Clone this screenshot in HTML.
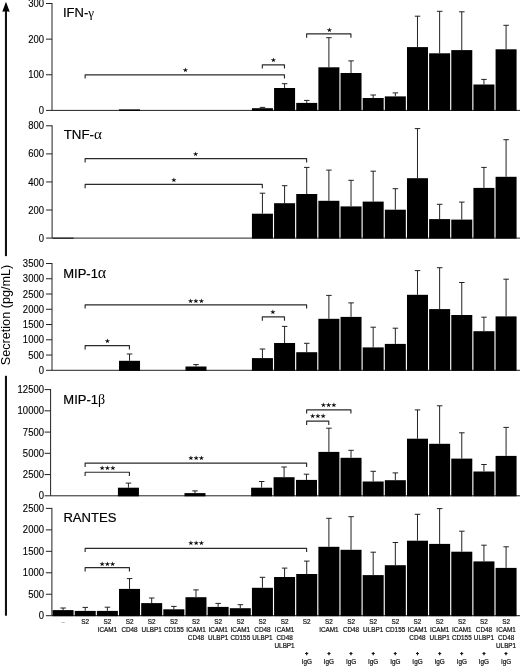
<!DOCTYPE html>
<html><head><meta charset="utf-8"><title>Figure</title>
<style>html,body{margin:0;padding:0;background:#fff}svg{display:block;will-change:transform}</style></head>
<body>
<svg width="520" height="666" viewBox="0 0 520 666">
<rect width="520" height="666" fill="#fff"/>
<g font-family="'Liberation Sans', Arial, sans-serif" fill="#000">
<rect x="4.92" y="10" width="2.08" height="246.1" fill="#111"/>
<rect x="4.92" y="375.8" width="2.08" height="239.9" fill="#111"/>
<polygon points="5.95,1.8 2.3,11.7 5.95,11.2 9.7,11.7" fill="#000"/>
<text transform="translate(9.8,365.3) rotate(-90)" font-size="13.5" textLength="100.6" lengthAdjust="spacingAndGlyphs">Secretion (pg/mL)</text>
<path d="M52.0,3.0 V110.4 H520" fill="none" stroke="#222" stroke-width="1"/>
<line x1="46.0" y1="110.4" x2="52.0" y2="110.4" stroke="#222" stroke-width="1"/>
<text transform="translate(44,113.95) scale(0.95,1)" font-size="10" text-anchor="end" stroke="#000" stroke-width="0.12">0</text>
<line x1="46.0" y1="74.77" x2="52.0" y2="74.77" stroke="#222" stroke-width="1"/>
<text transform="translate(44,78.32) scale(0.95,1)" font-size="10" text-anchor="end" stroke="#000" stroke-width="0.12">100</text>
<line x1="46.0" y1="39.13" x2="52.0" y2="39.13" stroke="#222" stroke-width="1"/>
<text transform="translate(44,42.68) scale(0.95,1)" font-size="10" text-anchor="end" stroke="#000" stroke-width="0.12">200</text>
<line x1="46.0" y1="3.5" x2="52.0" y2="3.5" stroke="#222" stroke-width="1"/>
<text transform="translate(44,7.05) scale(0.95,1)" font-size="10" text-anchor="end" stroke="#000" stroke-width="0.12">300</text>
<text x="63" y="16.5" font-size="13" stroke="#000" stroke-width="0.2">IFN-<tspan font-family="'Liberation Serif', 'DejaVu Serif', serif" font-size="13" stroke-width="0">γ</tspan></text>
<rect x="119.03" y="109.4" width="21.0" height="1.50" fill="#000"/>
<rect x="251.93" y="108.2" width="21.0" height="2.70" fill="#000"/>
<path d="M262.43,108.2 V107.4 M259.73,107.4 H265.23" stroke="#222" stroke-width="1" fill="none"/>
<rect x="274.08" y="88" width="21.0" height="22.90" fill="#000"/>
<path d="M284.58,88 V83.7 M281.88,83.7 H287.38" stroke="#222" stroke-width="1" fill="none"/>
<rect x="296.23" y="102.9" width="21.0" height="8.00" fill="#000"/>
<path d="M306.73,102.9 V100.4 M304.03,100.4 H309.53" stroke="#222" stroke-width="1" fill="none"/>
<rect x="318.38" y="67.3" width="21.0" height="43.60" fill="#000"/>
<path d="M328.88,67.3 V37.7 M326.18,37.7 H331.68" stroke="#222" stroke-width="1" fill="none"/>
<rect x="340.53" y="73" width="21.0" height="37.90" fill="#000"/>
<path d="M351.03,73 V60.9 M348.33,60.9 H353.83" stroke="#222" stroke-width="1" fill="none"/>
<rect x="362.68" y="98" width="21.0" height="12.90" fill="#000"/>
<path d="M373.18,98 V95 M370.48,95 H375.98" stroke="#222" stroke-width="1" fill="none"/>
<rect x="384.83" y="96.4" width="21.0" height="14.50" fill="#000"/>
<path d="M395.33,96.4 V92.9 M392.63,92.9 H398.13" stroke="#222" stroke-width="1" fill="none"/>
<rect x="406.98" y="47.1" width="21.0" height="63.80" fill="#000"/>
<path d="M417.48,47.1 V16.2 M414.78,16.2 H420.28" stroke="#222" stroke-width="1" fill="none"/>
<rect x="429.13" y="53.3" width="21.0" height="57.60" fill="#000"/>
<path d="M439.63,53.3 V11.3 M436.93,11.3 H442.43" stroke="#222" stroke-width="1" fill="none"/>
<rect x="451.28" y="50.1" width="21.0" height="60.80" fill="#000"/>
<path d="M461.78,50.1 V11.8 M459.08,11.8 H464.58" stroke="#222" stroke-width="1" fill="none"/>
<rect x="473.43" y="84.5" width="21.0" height="26.40" fill="#000"/>
<path d="M483.93,84.5 V79.4 M481.23,79.4 H486.73" stroke="#222" stroke-width="1" fill="none"/>
<rect x="495.58" y="49.3" width="21.0" height="61.60" fill="#000"/>
<path d="M506.08,49.3 V25.3 M503.38,25.3 H508.88" stroke="#222" stroke-width="1" fill="none"/>
<path d="M85.13,78.6 V74.8 H284.48 V78.6" stroke="#2a2a2a" stroke-width="1.15" stroke-linejoin="round" fill="none"/>
<text x="185.3" y="72.35" font-size="5.9" stroke="#000" stroke-width="0.15" text-anchor="middle" font-family="'DejaVu Sans', sans-serif">★</text>
<path d="M262.33,68.6 V64.8 H284.48 V68.6" stroke="#2a2a2a" stroke-width="1.15" stroke-linejoin="round" fill="none"/>
<text x="273.4" y="62.05" font-size="5.9" stroke="#000" stroke-width="0.15" text-anchor="middle" font-family="'DejaVu Sans', sans-serif">★</text>
<path d="M306.63,37.7 V33.900000000000006 H350.93 V37.7" stroke="#2a2a2a" stroke-width="1.15" stroke-linejoin="round" fill="none"/>
<text x="329.3" y="31.75" font-size="5.9" stroke="#000" stroke-width="0.15" text-anchor="middle" font-family="'DejaVu Sans', sans-serif">★</text>
<path d="M52.1,125.3 V238.1 H520" fill="none" stroke="#222" stroke-width="1"/>
<line x1="46.1" y1="238.1" x2="52.1" y2="238.1" stroke="#222" stroke-width="1"/>
<text transform="translate(44,241.65) scale(0.95,1)" font-size="10" text-anchor="end" stroke="#000" stroke-width="0.12">0</text>
<line x1="46.1" y1="210.03" x2="52.1" y2="210.03" stroke="#222" stroke-width="1"/>
<text transform="translate(44,213.58) scale(0.95,1)" font-size="10" text-anchor="end" stroke="#000" stroke-width="0.12">200</text>
<line x1="46.1" y1="181.95" x2="52.1" y2="181.95" stroke="#222" stroke-width="1"/>
<text transform="translate(44,185.50) scale(0.95,1)" font-size="10" text-anchor="end" stroke="#000" stroke-width="0.12">400</text>
<line x1="46.1" y1="153.88" x2="52.1" y2="153.88" stroke="#222" stroke-width="1"/>
<text transform="translate(44,157.43) scale(0.95,1)" font-size="10" text-anchor="end" stroke="#000" stroke-width="0.12">600</text>
<line x1="46.1" y1="125.8" x2="52.1" y2="125.8" stroke="#222" stroke-width="1"/>
<text transform="translate(44,129.35) scale(0.95,1)" font-size="10" text-anchor="end" stroke="#000" stroke-width="0.12">800</text>
<text x="63.7" y="138.9" font-size="13.3" stroke="#000" stroke-width="0.2">TNF-<tspan font-family="'Liberation Serif', 'DejaVu Serif', serif" font-size="15" stroke-width="0">α</tspan></text>
<rect x="52.58" y="237.7" width="21.0" height="0.90" fill="#000"/>
<rect x="251.93" y="213.7" width="21.0" height="24.90" fill="#000"/>
<path d="M262.43,213.7 V193.2 M259.73,193.2 H265.23" stroke="#222" stroke-width="1" fill="none"/>
<rect x="274.08" y="203.2" width="21.0" height="35.40" fill="#000"/>
<path d="M284.58,203.2 V185.7 M281.88,185.7 H287.38" stroke="#222" stroke-width="1" fill="none"/>
<rect x="296.23" y="194" width="21.0" height="44.60" fill="#000"/>
<path d="M306.73,194 V167.4 M304.03,167.4 H309.53" stroke="#222" stroke-width="1" fill="none"/>
<rect x="318.38" y="200.8" width="21.0" height="37.80" fill="#000"/>
<path d="M328.88,200.8 V170.1 M326.18,170.1 H331.68" stroke="#222" stroke-width="1" fill="none"/>
<rect x="340.53" y="206.4" width="21.0" height="32.20" fill="#000"/>
<path d="M351.03,206.4 V180.3 M348.33,180.3 H353.83" stroke="#222" stroke-width="1" fill="none"/>
<rect x="362.68" y="201.6" width="21.0" height="37.00" fill="#000"/>
<path d="M373.18,201.6 V171.2 M370.48,171.2 H375.98" stroke="#222" stroke-width="1" fill="none"/>
<rect x="384.83" y="209.7" width="21.0" height="28.90" fill="#000"/>
<path d="M395.33,209.7 V188.7 M392.63,188.7 H398.13" stroke="#222" stroke-width="1" fill="none"/>
<rect x="406.98" y="178.2" width="21.0" height="60.40" fill="#000"/>
<path d="M417.48,178.2 V128.6 M414.78,128.6 H420.28" stroke="#222" stroke-width="1" fill="none"/>
<rect x="429.13" y="219.1" width="21.0" height="19.50" fill="#000"/>
<path d="M439.63,219.1 V204.3 M436.93,204.3 H442.43" stroke="#222" stroke-width="1" fill="none"/>
<rect x="451.28" y="219.6" width="21.0" height="19.00" fill="#000"/>
<path d="M461.78,219.6 V202.1 M459.08,202.1 H464.58" stroke="#222" stroke-width="1" fill="none"/>
<rect x="473.43" y="187.9" width="21.0" height="50.70" fill="#000"/>
<path d="M483.93,187.9 V167.4 M481.23,167.4 H486.73" stroke="#222" stroke-width="1" fill="none"/>
<rect x="495.58" y="176.8" width="21.0" height="61.80" fill="#000"/>
<path d="M506.08,176.8 V139.7 M503.38,139.7 H508.88" stroke="#222" stroke-width="1" fill="none"/>
<path d="M85.13,162.4 V158.6 H306.63 V162.4" stroke="#2a2a2a" stroke-width="1.15" stroke-linejoin="round" fill="none"/>
<text x="195.6" y="155.75" font-size="5.9" stroke="#000" stroke-width="0.15" text-anchor="middle" font-family="'DejaVu Sans', sans-serif">★</text>
<path d="M85.13,188.2 V184.39999999999998 H262.33 V188.2" stroke="#2a2a2a" stroke-width="1.15" stroke-linejoin="round" fill="none"/>
<text x="174" y="182.35" font-size="5.9" stroke="#000" stroke-width="0.15" text-anchor="middle" font-family="'DejaVu Sans', sans-serif">★</text>
<path d="M52.0,263.0 V370.3 H520" fill="none" stroke="#222" stroke-width="1"/>
<line x1="46.0" y1="370.3" x2="52.0" y2="370.3" stroke="#222" stroke-width="1"/>
<text transform="translate(44,373.85) scale(0.95,1)" font-size="10" text-anchor="end" stroke="#000" stroke-width="0.12">0</text>
<line x1="46.0" y1="355.04" x2="52.0" y2="355.04" stroke="#222" stroke-width="1"/>
<text transform="translate(44,358.59) scale(0.95,1)" font-size="10" text-anchor="end" stroke="#000" stroke-width="0.12">500</text>
<line x1="46.0" y1="339.79" x2="52.0" y2="339.79" stroke="#222" stroke-width="1"/>
<text transform="translate(44,343.34) scale(0.95,1)" font-size="10" text-anchor="end" stroke="#000" stroke-width="0.12">1000</text>
<line x1="46.0" y1="324.53" x2="52.0" y2="324.53" stroke="#222" stroke-width="1"/>
<text transform="translate(44,328.08) scale(0.95,1)" font-size="10" text-anchor="end" stroke="#000" stroke-width="0.12">1500</text>
<line x1="46.0" y1="309.27" x2="52.0" y2="309.27" stroke="#222" stroke-width="1"/>
<text transform="translate(44,312.82) scale(0.95,1)" font-size="10" text-anchor="end" stroke="#000" stroke-width="0.12">2000</text>
<line x1="46.0" y1="294.01" x2="52.0" y2="294.01" stroke="#222" stroke-width="1"/>
<text transform="translate(44,297.56) scale(0.95,1)" font-size="10" text-anchor="end" stroke="#000" stroke-width="0.12">2500</text>
<line x1="46.0" y1="278.76" x2="52.0" y2="278.76" stroke="#222" stroke-width="1"/>
<text transform="translate(44,282.31) scale(0.95,1)" font-size="10" text-anchor="end" stroke="#000" stroke-width="0.12">3000</text>
<line x1="46.0" y1="263.5" x2="52.0" y2="263.5" stroke="#222" stroke-width="1"/>
<text transform="translate(44,267.05) scale(0.95,1)" font-size="10" text-anchor="end" stroke="#000" stroke-width="0.12">3500</text>
<text x="63.2" y="277.8" font-size="13" stroke="#000" stroke-width="0.2">MIP-1<tspan font-family="'Liberation Serif', 'DejaVu Serif', serif" font-size="16" stroke-width="0">α</tspan></text>
<rect x="119.03" y="360.8" width="21.0" height="10.00" fill="#000"/>
<path d="M129.53,360.8 V354 M126.83,354 H132.33" stroke="#222" stroke-width="1" fill="none"/>
<rect x="185.48" y="366.5" width="21.0" height="4.30" fill="#000"/>
<path d="M195.98,366.5 V364.6 M193.28,364.6 H198.78" stroke="#222" stroke-width="1" fill="none"/>
<rect x="251.93" y="358.1" width="21.0" height="12.70" fill="#000"/>
<path d="M262.43,358.1 V349 M259.73,349 H265.23" stroke="#222" stroke-width="1" fill="none"/>
<rect x="274.08" y="343" width="21.0" height="27.80" fill="#000"/>
<path d="M284.58,343 V326.4 M281.88,326.4 H287.38" stroke="#222" stroke-width="1" fill="none"/>
<rect x="296.23" y="352.2" width="21.0" height="18.60" fill="#000"/>
<path d="M306.73,352.2 V343.3 M304.03,343.3 H309.53" stroke="#222" stroke-width="1" fill="none"/>
<rect x="318.38" y="318.8" width="21.0" height="52.00" fill="#000"/>
<path d="M328.88,318.8 V295.4 M326.18,295.4 H331.68" stroke="#222" stroke-width="1" fill="none"/>
<rect x="340.53" y="316.9" width="21.0" height="53.90" fill="#000"/>
<path d="M351.03,316.9 V302.9 M348.33,302.9 H353.83" stroke="#222" stroke-width="1" fill="none"/>
<rect x="362.68" y="347.4" width="21.0" height="23.40" fill="#000"/>
<path d="M373.18,347.4 V327.2 M370.48,327.2 H375.98" stroke="#222" stroke-width="1" fill="none"/>
<rect x="384.83" y="343.9" width="21.0" height="26.90" fill="#000"/>
<path d="M395.33,343.9 V328.2 M392.63,328.2 H398.13" stroke="#222" stroke-width="1" fill="none"/>
<rect x="406.98" y="294.8" width="21.0" height="76.00" fill="#000"/>
<path d="M417.48,294.8 V270.6 M414.78,270.6 H420.28" stroke="#222" stroke-width="1" fill="none"/>
<rect x="429.13" y="309.1" width="21.0" height="61.70" fill="#000"/>
<path d="M439.63,309.1 V267.7 M436.93,267.7 H442.43" stroke="#222" stroke-width="1" fill="none"/>
<rect x="451.28" y="315" width="21.0" height="55.80" fill="#000"/>
<path d="M461.78,315 V282.5 M459.08,282.5 H464.58" stroke="#222" stroke-width="1" fill="none"/>
<rect x="473.43" y="331.2" width="21.0" height="39.60" fill="#000"/>
<path d="M483.93,331.2 V317.2 M481.23,317.2 H486.73" stroke="#222" stroke-width="1" fill="none"/>
<rect x="495.58" y="316.4" width="21.0" height="54.40" fill="#000"/>
<path d="M506.08,316.4 V279.2 M503.38,279.2 H508.88" stroke="#222" stroke-width="1" fill="none"/>
<path d="M85.13,308.6 V304.8 H306.63 V308.6" stroke="#2a2a2a" stroke-width="1.15" stroke-linejoin="round" fill="none"/>
<text x="196" y="302.55" font-size="5.9" stroke="#000" stroke-width="0.15" text-anchor="middle" font-family="'DejaVu Sans', sans-serif">★★★</text>
<path d="M85.13,349.4 V345.59999999999997 H129.43 V349.4" stroke="#2a2a2a" stroke-width="1.15" stroke-linejoin="round" fill="none"/>
<text x="107.5" y="342.75" font-size="5.9" stroke="#000" stroke-width="0.15" text-anchor="middle" font-family="'DejaVu Sans', sans-serif">★</text>
<path d="M262.33,320.7 V316.9 H284.48 V320.7" stroke="#2a2a2a" stroke-width="1.15" stroke-linejoin="round" fill="none"/>
<text x="272.8" y="314.15" font-size="5.9" stroke="#000" stroke-width="0.15" text-anchor="middle" font-family="'DejaVu Sans', sans-serif">★</text>
<path d="M50.6,389.1 V495.8 H520" fill="none" stroke="#222" stroke-width="1"/>
<line x1="44.6" y1="495.8" x2="50.6" y2="495.8" stroke="#222" stroke-width="1"/>
<text transform="translate(44,499.35) scale(0.95,1)" font-size="10" text-anchor="end" stroke="#000" stroke-width="0.12">0</text>
<line x1="44.6" y1="474.56" x2="50.6" y2="474.56" stroke="#222" stroke-width="1"/>
<text transform="translate(44,478.11) scale(0.95,1)" font-size="10" text-anchor="end" stroke="#000" stroke-width="0.12">2500</text>
<line x1="44.6" y1="453.32" x2="50.6" y2="453.32" stroke="#222" stroke-width="1"/>
<text transform="translate(44,456.87) scale(0.95,1)" font-size="10" text-anchor="end" stroke="#000" stroke-width="0.12">5000</text>
<line x1="44.6" y1="432.08" x2="50.6" y2="432.08" stroke="#222" stroke-width="1"/>
<text transform="translate(44,435.63) scale(0.95,1)" font-size="10" text-anchor="end" stroke="#000" stroke-width="0.12">7500</text>
<line x1="44.6" y1="410.84" x2="50.6" y2="410.84" stroke="#222" stroke-width="1"/>
<text transform="translate(44,414.39) scale(0.95,1)" font-size="10" text-anchor="end" stroke="#000" stroke-width="0.12">10000</text>
<line x1="44.6" y1="389.6" x2="50.6" y2="389.6" stroke="#222" stroke-width="1"/>
<text transform="translate(44,393.15) scale(0.95,1)" font-size="10" text-anchor="end" stroke="#000" stroke-width="0.12">12500</text>
<text x="63.3" y="403.6" font-size="13" stroke="#000" stroke-width="0.2">MIP-1<tspan font-family="'Liberation Serif', 'DejaVu Serif', serif" font-size="14" stroke-width="0">β</tspan></text>
<rect x="117.93" y="487.7" width="21.0" height="8.60" fill="#000"/>
<path d="M128.43,487.7 V483.1 M125.73,483.1 H131.23" stroke="#222" stroke-width="1" fill="none"/>
<rect x="184.48" y="493.1" width="21.0" height="3.20" fill="#000"/>
<path d="M194.98,493.1 V490.9 M192.28,490.9 H197.78" stroke="#222" stroke-width="1" fill="none"/>
<rect x="251.13" y="487.7" width="21.0" height="8.60" fill="#000"/>
<path d="M261.63,487.7 V481.5 M258.93,481.5 H264.43" stroke="#222" stroke-width="1" fill="none"/>
<rect x="273.58" y="477.2" width="21.0" height="19.10" fill="#000"/>
<path d="M284.08,477.2 V467 M281.38,467 H286.88" stroke="#222" stroke-width="1" fill="none"/>
<rect x="295.98" y="479.9" width="21.0" height="16.40" fill="#000"/>
<path d="M306.48,479.9 V474.2 M303.78,474.2 H309.28" stroke="#222" stroke-width="1" fill="none"/>
<rect x="318.38" y="451.9" width="21.0" height="44.40" fill="#000"/>
<path d="M328.88,451.9 V428.2 M326.18,428.2 H331.68" stroke="#222" stroke-width="1" fill="none"/>
<rect x="340.53" y="457.8" width="21.0" height="38.50" fill="#000"/>
<path d="M351.03,457.8 V450.3 M348.33,450.3 H353.83" stroke="#222" stroke-width="1" fill="none"/>
<rect x="362.68" y="481.5" width="21.0" height="14.80" fill="#000"/>
<path d="M373.18,481.5 V471.3 M370.48,471.3 H375.98" stroke="#222" stroke-width="1" fill="none"/>
<rect x="384.83" y="480.2" width="21.0" height="16.10" fill="#000"/>
<path d="M395.33,480.2 V472.9 M392.63,472.9 H398.13" stroke="#222" stroke-width="1" fill="none"/>
<rect x="406.98" y="438.7" width="21.0" height="57.60" fill="#000"/>
<path d="M417.48,438.7 V409.9 M414.78,409.9 H420.28" stroke="#222" stroke-width="1" fill="none"/>
<rect x="429.13" y="443.8" width="21.0" height="52.50" fill="#000"/>
<path d="M439.63,443.8 V405.8 M436.93,405.8 H442.43" stroke="#222" stroke-width="1" fill="none"/>
<rect x="451.28" y="458.6" width="21.0" height="37.70" fill="#000"/>
<path d="M461.78,458.6 V432.8 M459.08,432.8 H464.58" stroke="#222" stroke-width="1" fill="none"/>
<rect x="473.43" y="471.5" width="21.0" height="24.80" fill="#000"/>
<path d="M483.93,471.5 V464.5 M481.23,464.5 H486.73" stroke="#222" stroke-width="1" fill="none"/>
<rect x="495.58" y="455.9" width="21.0" height="40.40" fill="#000"/>
<path d="M506.08,455.9 V427.4 M503.38,427.4 H508.88" stroke="#222" stroke-width="1" fill="none"/>
<path d="M85.13,466.9 V463.09999999999997 H306.63 V466.9" stroke="#2a2a2a" stroke-width="1.15" stroke-linejoin="round" fill="none"/>
<text x="196.1" y="460.35" font-size="5.9" stroke="#000" stroke-width="0.15" text-anchor="middle" font-family="'DejaVu Sans', sans-serif">★★★</text>
<path d="M85.13,476 V472.2 H129.43 V476" stroke="#2a2a2a" stroke-width="1.15" stroke-linejoin="round" fill="none"/>
<text x="107.5" y="469.55" font-size="5.9" stroke="#000" stroke-width="0.15" text-anchor="middle" font-family="'DejaVu Sans', sans-serif">★★★</text>
<path d="M306.63,413.6 V409.8 H350.93 V413.6" stroke="#2a2a2a" stroke-width="1.15" stroke-linejoin="round" fill="none"/>
<text x="328.6" y="407.35" font-size="5.9" stroke="#000" stroke-width="0.15" text-anchor="middle" font-family="'DejaVu Sans', sans-serif">★★★</text>
<path d="M306.63,424.9 V421.09999999999997 H328.78 V424.9" stroke="#2a2a2a" stroke-width="1.15" stroke-linejoin="round" fill="none"/>
<text x="317.8" y="418.35" font-size="5.9" stroke="#000" stroke-width="0.15" text-anchor="middle" font-family="'DejaVu Sans', sans-serif">★★★</text>
<path d="M51.9,507.9 V615.7 H520" fill="none" stroke="#222" stroke-width="1"/>
<line x1="45.9" y1="615.7" x2="51.9" y2="615.7" stroke="#222" stroke-width="1"/>
<text transform="translate(44,619.25) scale(0.95,1)" font-size="10" text-anchor="end" stroke="#000" stroke-width="0.12">0</text>
<line x1="45.9" y1="594.24" x2="51.9" y2="594.24" stroke="#222" stroke-width="1"/>
<text transform="translate(44,597.79) scale(0.95,1)" font-size="10" text-anchor="end" stroke="#000" stroke-width="0.12">500</text>
<line x1="45.9" y1="572.78" x2="51.9" y2="572.78" stroke="#222" stroke-width="1"/>
<text transform="translate(44,576.33) scale(0.95,1)" font-size="10" text-anchor="end" stroke="#000" stroke-width="0.12">1000</text>
<line x1="45.9" y1="551.32" x2="51.9" y2="551.32" stroke="#222" stroke-width="1"/>
<text transform="translate(44,554.87) scale(0.95,1)" font-size="10" text-anchor="end" stroke="#000" stroke-width="0.12">1500</text>
<line x1="45.9" y1="529.86" x2="51.9" y2="529.86" stroke="#222" stroke-width="1"/>
<text transform="translate(44,533.41) scale(0.95,1)" font-size="10" text-anchor="end" stroke="#000" stroke-width="0.12">2000</text>
<line x1="45.9" y1="508.4" x2="51.9" y2="508.4" stroke="#222" stroke-width="1"/>
<text transform="translate(44,511.95) scale(0.95,1)" font-size="10" text-anchor="end" stroke="#000" stroke-width="0.12">2500</text>
<text x="63.4" y="521.9" font-size="13.1" stroke="#000" stroke-width="0.2">RANTES</text>
<rect x="52.58" y="610.1" width="21.0" height="6.10" fill="#000"/>
<path d="M63.08,610.1 V608 M60.38,608 H65.88" stroke="#222" stroke-width="1" fill="none"/>
<rect x="74.73" y="610.9" width="21.0" height="5.30" fill="#000"/>
<path d="M85.23,610.9 V607.4 M82.53,607.4 H88.03" stroke="#222" stroke-width="1" fill="none"/>
<rect x="96.88" y="610.9" width="21.0" height="5.30" fill="#000"/>
<path d="M107.38,610.9 V607.2 M104.68,607.2 H110.18" stroke="#222" stroke-width="1" fill="none"/>
<rect x="119.03" y="588.9" width="21.0" height="27.30" fill="#000"/>
<path d="M129.53,588.9 V578.6 M126.83,578.6 H132.33" stroke="#222" stroke-width="1" fill="none"/>
<rect x="141.18" y="603.1" width="21.0" height="13.10" fill="#000"/>
<path d="M151.68,603.1 V598 M148.98,598 H154.48" stroke="#222" stroke-width="1" fill="none"/>
<rect x="163.33" y="609.3" width="21.0" height="6.90" fill="#000"/>
<path d="M173.83,609.3 V606.4 M171.13,606.4 H176.63" stroke="#222" stroke-width="1" fill="none"/>
<rect x="185.48" y="597.2" width="21.0" height="19.00" fill="#000"/>
<path d="M195.98,597.2 V589.9 M193.28,589.9 H198.78" stroke="#222" stroke-width="1" fill="none"/>
<rect x="207.63" y="606.9" width="21.0" height="9.30" fill="#000"/>
<path d="M218.13,606.9 V603.4 M215.43,603.4 H220.93" stroke="#222" stroke-width="1" fill="none"/>
<rect x="229.78" y="608.2" width="21.0" height="8.00" fill="#000"/>
<path d="M240.28,608.2 V604.7 M237.58,604.7 H243.08" stroke="#222" stroke-width="1" fill="none"/>
<rect x="251.93" y="587.8" width="21.0" height="28.40" fill="#000"/>
<path d="M262.43,587.8 V577.3 M259.73,577.3 H265.23" stroke="#222" stroke-width="1" fill="none"/>
<rect x="274.08" y="577" width="21.0" height="39.20" fill="#000"/>
<path d="M284.58,577 V568.1 M281.88,568.1 H287.38" stroke="#222" stroke-width="1" fill="none"/>
<rect x="296.23" y="574" width="21.0" height="42.20" fill="#000"/>
<path d="M306.73,574 V561.1 M304.03,561.1 H309.53" stroke="#222" stroke-width="1" fill="none"/>
<rect x="318.38" y="546.8" width="21.0" height="69.40" fill="#000"/>
<path d="M328.88,546.8 V518.3 M326.18,518.3 H331.68" stroke="#222" stroke-width="1" fill="none"/>
<rect x="340.53" y="549.8" width="21.0" height="66.40" fill="#000"/>
<path d="M351.03,549.8 V516.7 M348.33,516.7 H353.83" stroke="#222" stroke-width="1" fill="none"/>
<rect x="362.68" y="575.1" width="21.0" height="41.10" fill="#000"/>
<path d="M373.18,575.1 V552.2 M370.48,552.2 H375.98" stroke="#222" stroke-width="1" fill="none"/>
<rect x="384.83" y="565.2" width="21.0" height="51.00" fill="#000"/>
<path d="M395.33,565.2 V542.5 M392.63,542.5 H398.13" stroke="#222" stroke-width="1" fill="none"/>
<rect x="406.98" y="540.7" width="21.0" height="75.50" fill="#000"/>
<path d="M417.48,540.7 V514.3 M414.78,514.3 H420.28" stroke="#222" stroke-width="1" fill="none"/>
<rect x="429.13" y="543.9" width="21.0" height="72.30" fill="#000"/>
<path d="M439.63,543.9 V508.6 M436.93,508.6 H442.43" stroke="#222" stroke-width="1" fill="none"/>
<rect x="451.28" y="551.7" width="21.0" height="64.50" fill="#000"/>
<path d="M461.78,551.7 V531.2 M459.08,531.2 H464.58" stroke="#222" stroke-width="1" fill="none"/>
<rect x="473.43" y="561.4" width="21.0" height="54.80" fill="#000"/>
<path d="M483.93,561.4 V545.2 M481.23,545.2 H486.73" stroke="#222" stroke-width="1" fill="none"/>
<rect x="495.58" y="567.9" width="21.0" height="48.30" fill="#000"/>
<path d="M506.08,567.9 V546.8 M503.38,546.8 H508.88" stroke="#222" stroke-width="1" fill="none"/>
<path d="M85.13,552.1 V548.3000000000001 H306.63 V552.1" stroke="#2a2a2a" stroke-width="1.15" stroke-linejoin="round" fill="none"/>
<text x="196.1" y="545.35" font-size="5.9" stroke="#000" stroke-width="0.15" text-anchor="middle" font-family="'DejaVu Sans', sans-serif">★★★</text>
<path d="M85.13,571.4 V567.6 H129.43 V571.4" stroke="#2a2a2a" stroke-width="1.15" stroke-linejoin="round" fill="none"/>
<text x="107.3" y="565.55" font-size="5.9" stroke="#000" stroke-width="0.15" text-anchor="middle" font-family="'DejaVu Sans', sans-serif">★★★</text>
<text x="63.08" y="623.9" font-size="6" text-anchor="middle" fill="#555">–</text>
<text transform="translate(85.23,624.3) scale(0.86,1)" font-size="7.4" text-anchor="middle" fill="#111" stroke="#111" stroke-width="0.22">S2</text>
<text transform="translate(107.38,624.3) scale(0.86,1)" font-size="7.4" text-anchor="middle" fill="#111" stroke="#111" stroke-width="0.22">S2</text>
<text transform="translate(107.38,632.3) scale(0.86,1)" font-size="7.4" text-anchor="middle" fill="#111" stroke="#111" stroke-width="0.22">ICAM1</text>
<text transform="translate(129.53,624.3) scale(0.86,1)" font-size="7.4" text-anchor="middle" fill="#111" stroke="#111" stroke-width="0.22">S2</text>
<text transform="translate(129.53,632.3) scale(0.86,1)" font-size="7.4" text-anchor="middle" fill="#111" stroke="#111" stroke-width="0.22">CD48</text>
<text transform="translate(151.68,624.3) scale(0.86,1)" font-size="7.4" text-anchor="middle" fill="#111" stroke="#111" stroke-width="0.22">S2</text>
<text transform="translate(151.68,632.3) scale(0.86,1)" font-size="7.4" text-anchor="middle" fill="#111" stroke="#111" stroke-width="0.22">ULBP1</text>
<text transform="translate(173.83,624.3) scale(0.86,1)" font-size="7.4" text-anchor="middle" fill="#111" stroke="#111" stroke-width="0.22">S2</text>
<text transform="translate(173.83,632.3) scale(0.86,1)" font-size="7.4" text-anchor="middle" fill="#111" stroke="#111" stroke-width="0.22">CD155</text>
<text transform="translate(195.98,624.3) scale(0.86,1)" font-size="7.4" text-anchor="middle" fill="#111" stroke="#111" stroke-width="0.22">S2</text>
<text transform="translate(195.98,632.3) scale(0.86,1)" font-size="7.4" text-anchor="middle" fill="#111" stroke="#111" stroke-width="0.22">ICAM1</text>
<text transform="translate(195.98,640.3) scale(0.86,1)" font-size="7.4" text-anchor="middle" fill="#111" stroke="#111" stroke-width="0.22">CD48</text>
<text transform="translate(218.13,624.3) scale(0.86,1)" font-size="7.4" text-anchor="middle" fill="#111" stroke="#111" stroke-width="0.22">S2</text>
<text transform="translate(218.13,632.3) scale(0.86,1)" font-size="7.4" text-anchor="middle" fill="#111" stroke="#111" stroke-width="0.22">ICAM1</text>
<text transform="translate(218.13,640.3) scale(0.86,1)" font-size="7.4" text-anchor="middle" fill="#111" stroke="#111" stroke-width="0.22">ULBP1</text>
<text transform="translate(240.28,624.3) scale(0.86,1)" font-size="7.4" text-anchor="middle" fill="#111" stroke="#111" stroke-width="0.22">S2</text>
<text transform="translate(240.28,632.3) scale(0.86,1)" font-size="7.4" text-anchor="middle" fill="#111" stroke="#111" stroke-width="0.22">ICAM1</text>
<text transform="translate(240.28,640.3) scale(0.86,1)" font-size="7.4" text-anchor="middle" fill="#111" stroke="#111" stroke-width="0.22">CD155</text>
<text transform="translate(262.43,624.3) scale(0.86,1)" font-size="7.4" text-anchor="middle" fill="#111" stroke="#111" stroke-width="0.22">S2</text>
<text transform="translate(262.43,632.3) scale(0.86,1)" font-size="7.4" text-anchor="middle" fill="#111" stroke="#111" stroke-width="0.22">CD48</text>
<text transform="translate(262.43,640.3) scale(0.86,1)" font-size="7.4" text-anchor="middle" fill="#111" stroke="#111" stroke-width="0.22">ULBP1</text>
<text transform="translate(284.58,624.3) scale(0.86,1)" font-size="7.4" text-anchor="middle" fill="#111" stroke="#111" stroke-width="0.22">S2</text>
<text transform="translate(284.58,632.3) scale(0.86,1)" font-size="7.4" text-anchor="middle" fill="#111" stroke="#111" stroke-width="0.22">ICAM1</text>
<text transform="translate(284.58,640.3) scale(0.86,1)" font-size="7.4" text-anchor="middle" fill="#111" stroke="#111" stroke-width="0.22">CD48</text>
<text transform="translate(284.58,648.4) scale(0.86,1)" font-size="7.4" text-anchor="middle" fill="#111" stroke="#111" stroke-width="0.22">ULBP1</text>
<text transform="translate(306.73,624.3) scale(0.86,1)" font-size="7.4" text-anchor="middle" fill="#111" stroke="#111" stroke-width="0.22">S2</text>
<text x="306.73" y="655.3" font-size="5" font-weight="bold" text-anchor="middle" fill="#111" stroke="#111" stroke-width="0.5">+</text>
<text transform="translate(306.73,664.3) scale(0.86,1)" font-size="7.4" text-anchor="middle" fill="#111" stroke="#111" stroke-width="0.22">IgG</text>
<text transform="translate(328.88,624.3) scale(0.86,1)" font-size="7.4" text-anchor="middle" fill="#111" stroke="#111" stroke-width="0.22">S2</text>
<text transform="translate(328.88,632.3) scale(0.86,1)" font-size="7.4" text-anchor="middle" fill="#111" stroke="#111" stroke-width="0.22">ICAM1</text>
<text x="328.88" y="655.3" font-size="5" font-weight="bold" text-anchor="middle" fill="#111" stroke="#111" stroke-width="0.5">+</text>
<text transform="translate(328.88,664.3) scale(0.86,1)" font-size="7.4" text-anchor="middle" fill="#111" stroke="#111" stroke-width="0.22">IgG</text>
<text transform="translate(351.03,624.3) scale(0.86,1)" font-size="7.4" text-anchor="middle" fill="#111" stroke="#111" stroke-width="0.22">S2</text>
<text transform="translate(351.03,632.3) scale(0.86,1)" font-size="7.4" text-anchor="middle" fill="#111" stroke="#111" stroke-width="0.22">CD48</text>
<text x="351.03" y="655.3" font-size="5" font-weight="bold" text-anchor="middle" fill="#111" stroke="#111" stroke-width="0.5">+</text>
<text transform="translate(351.03,664.3) scale(0.86,1)" font-size="7.4" text-anchor="middle" fill="#111" stroke="#111" stroke-width="0.22">IgG</text>
<text transform="translate(373.18,624.3) scale(0.86,1)" font-size="7.4" text-anchor="middle" fill="#111" stroke="#111" stroke-width="0.22">S2</text>
<text transform="translate(373.18,632.3) scale(0.86,1)" font-size="7.4" text-anchor="middle" fill="#111" stroke="#111" stroke-width="0.22">ULBP1</text>
<text x="373.18" y="655.3" font-size="5" font-weight="bold" text-anchor="middle" fill="#111" stroke="#111" stroke-width="0.5">+</text>
<text transform="translate(373.18,664.3) scale(0.86,1)" font-size="7.4" text-anchor="middle" fill="#111" stroke="#111" stroke-width="0.22">IgG</text>
<text transform="translate(395.33,624.3) scale(0.86,1)" font-size="7.4" text-anchor="middle" fill="#111" stroke="#111" stroke-width="0.22">S2</text>
<text transform="translate(395.33,632.3) scale(0.86,1)" font-size="7.4" text-anchor="middle" fill="#111" stroke="#111" stroke-width="0.22">CD155</text>
<text x="395.33" y="655.3" font-size="5" font-weight="bold" text-anchor="middle" fill="#111" stroke="#111" stroke-width="0.5">+</text>
<text transform="translate(395.33,664.3) scale(0.86,1)" font-size="7.4" text-anchor="middle" fill="#111" stroke="#111" stroke-width="0.22">IgG</text>
<text transform="translate(417.48,624.3) scale(0.86,1)" font-size="7.4" text-anchor="middle" fill="#111" stroke="#111" stroke-width="0.22">S2</text>
<text transform="translate(417.48,632.3) scale(0.86,1)" font-size="7.4" text-anchor="middle" fill="#111" stroke="#111" stroke-width="0.22">ICAM1</text>
<text transform="translate(417.48,640.3) scale(0.86,1)" font-size="7.4" text-anchor="middle" fill="#111" stroke="#111" stroke-width="0.22">CD48</text>
<text x="417.48" y="655.3" font-size="5" font-weight="bold" text-anchor="middle" fill="#111" stroke="#111" stroke-width="0.5">+</text>
<text transform="translate(417.48,664.3) scale(0.86,1)" font-size="7.4" text-anchor="middle" fill="#111" stroke="#111" stroke-width="0.22">IgG</text>
<text transform="translate(439.63,624.3) scale(0.86,1)" font-size="7.4" text-anchor="middle" fill="#111" stroke="#111" stroke-width="0.22">S2</text>
<text transform="translate(439.63,632.3) scale(0.86,1)" font-size="7.4" text-anchor="middle" fill="#111" stroke="#111" stroke-width="0.22">ICAM1</text>
<text transform="translate(439.63,640.3) scale(0.86,1)" font-size="7.4" text-anchor="middle" fill="#111" stroke="#111" stroke-width="0.22">ULBP1</text>
<text x="439.63" y="655.3" font-size="5" font-weight="bold" text-anchor="middle" fill="#111" stroke="#111" stroke-width="0.5">+</text>
<text transform="translate(439.63,664.3) scale(0.86,1)" font-size="7.4" text-anchor="middle" fill="#111" stroke="#111" stroke-width="0.22">IgG</text>
<text transform="translate(461.78,624.3) scale(0.86,1)" font-size="7.4" text-anchor="middle" fill="#111" stroke="#111" stroke-width="0.22">S2</text>
<text transform="translate(461.78,632.3) scale(0.86,1)" font-size="7.4" text-anchor="middle" fill="#111" stroke="#111" stroke-width="0.22">ICAM1</text>
<text transform="translate(461.78,640.3) scale(0.86,1)" font-size="7.4" text-anchor="middle" fill="#111" stroke="#111" stroke-width="0.22">CD155</text>
<text x="461.78" y="655.3" font-size="5" font-weight="bold" text-anchor="middle" fill="#111" stroke="#111" stroke-width="0.5">+</text>
<text transform="translate(461.78,664.3) scale(0.86,1)" font-size="7.4" text-anchor="middle" fill="#111" stroke="#111" stroke-width="0.22">IgG</text>
<text transform="translate(483.93,624.3) scale(0.86,1)" font-size="7.4" text-anchor="middle" fill="#111" stroke="#111" stroke-width="0.22">S2</text>
<text transform="translate(483.93,632.3) scale(0.86,1)" font-size="7.4" text-anchor="middle" fill="#111" stroke="#111" stroke-width="0.22">CD48</text>
<text transform="translate(483.93,640.3) scale(0.86,1)" font-size="7.4" text-anchor="middle" fill="#111" stroke="#111" stroke-width="0.22">ULBP1</text>
<text x="483.93" y="655.3" font-size="5" font-weight="bold" text-anchor="middle" fill="#111" stroke="#111" stroke-width="0.5">+</text>
<text transform="translate(483.93,664.3) scale(0.86,1)" font-size="7.4" text-anchor="middle" fill="#111" stroke="#111" stroke-width="0.22">IgG</text>
<text transform="translate(506.08,624.3) scale(0.86,1)" font-size="7.4" text-anchor="middle" fill="#111" stroke="#111" stroke-width="0.22">S2</text>
<text transform="translate(506.08,632.3) scale(0.86,1)" font-size="7.4" text-anchor="middle" fill="#111" stroke="#111" stroke-width="0.22">ICAM1</text>
<text transform="translate(506.08,640.3) scale(0.86,1)" font-size="7.4" text-anchor="middle" fill="#111" stroke="#111" stroke-width="0.22">CD48</text>
<text transform="translate(506.08,648.4) scale(0.86,1)" font-size="7.4" text-anchor="middle" fill="#111" stroke="#111" stroke-width="0.22">ULBP1</text>
<text x="506.08" y="655.3" font-size="5" font-weight="bold" text-anchor="middle" fill="#111" stroke="#111" stroke-width="0.5">+</text>
<text transform="translate(506.08,664.3) scale(0.86,1)" font-size="7.4" text-anchor="middle" fill="#111" stroke="#111" stroke-width="0.22">IgG</text>
</g></svg>
</body></html>
